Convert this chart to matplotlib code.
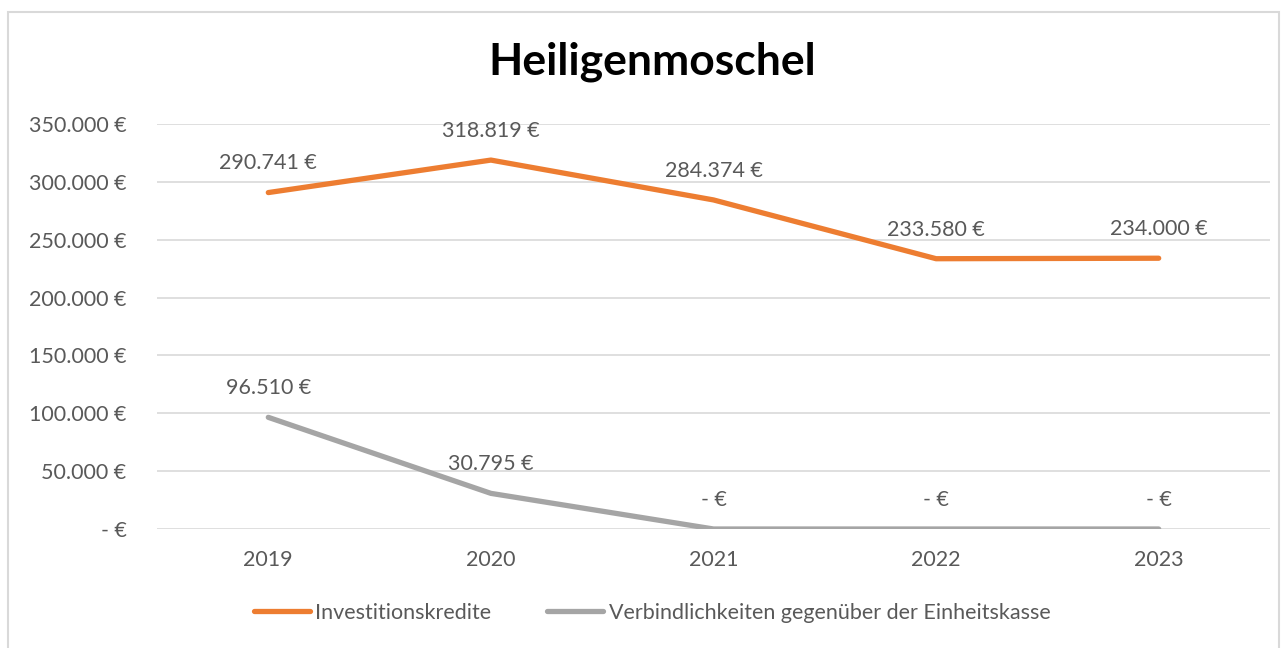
import matplotlib.pyplot as plt
from matplotlib.patches import Rectangle
from matplotlib.ticker import FuncFormatter

plt.rcParams['font.family'] = ['Lato', 'DejaVu Sans']

# Data
years = ['2019', '2020', '2021', '2022', '2023']
investitionskredite = [290741, 318819, 284374, 233580, 234000]
einheitskasse = [96510, 30795, 0, 0, 0]
series_names = ['Investitionskredite', 'Verbindlichkeiten gegenüber der Einheitskasse']
y_ticks = [0, 50000, 100000, 150000, 200000, 250000, 300000, 350000]


def euro(v, pos=None):
    if v == 0:
        return '- €'
    return f'{v:,.0f} €'.replace(',', '.')


text_col = '#595959'
fs = 15.5
fig = plt.figure(figsize=(12.85, 6.48), dpi=100)
ax = fig.add_axes([157 / 1285, 1 - 529 / 648, (1270 - 157) / 1285, (529 - 124) / 648])

# Chart border
fig.patches.append(Rectangle((8 / 1285, -0.01), 1271 / 1285, 1 - 12 / 648 + 0.01,
                             transform=fig.transFigure, fill=False,
                             edgecolor='#D9D9D9', linewidth=1.5))

x = list(range(len(years)))
ax.plot(x, investitionskredite, color='#ED7D31', linewidth=3.8,
        solid_capstyle='round', label=series_names[0], zorder=3)
ax.plot(x, einheitskasse, color='#A5A5A5', linewidth=3.8,
        solid_capstyle='round', label=series_names[1], zorder=3)

for series in (investitionskredite, einheitskasse):
    for xi, v in zip(x, series):
        ax.annotate(euro(v), (xi, v), xytext=(0, 21), textcoords='offset points',
                    ha='center', va='center', fontsize=fs, color=text_col)

ax.set_xlim(-0.5, len(years) - 0.5)
ax.set_ylim(0, 350000)
ax.set_yticks(y_ticks)
ax.yaxis.set_major_formatter(FuncFormatter(euro))
ax.set_xticks(x)
ax.set_xticklabels(years)
ax.grid(axis='y', color='#D9D9D9', linewidth=1.2)
ax.set_axisbelow(True)
for s in ax.spines.values():
    s.set_visible(False)
ax.tick_params(axis='both', length=0, labelsize=fs, labelcolor=text_col)
ax.tick_params(axis='y', pad=22)
ax.tick_params(axis='x', pad=15)

fig.text(652 / 1285, 1 - 62 / 648, 'Heiligenmoschel', ha='center', va='center',
         fontsize=32, fontweight='bold', color='black')

fig.legend(loc='center', bbox_to_anchor=(652 / 1285, 1 - 613 / 648), ncol=2,
           frameon=False, fontsize=fs, labelcolor=text_col, handlelength=2.6,
           handletextpad=0.25, columnspacing=2.6)

fig.savefig('out.png', dpi=100, facecolor='white')
